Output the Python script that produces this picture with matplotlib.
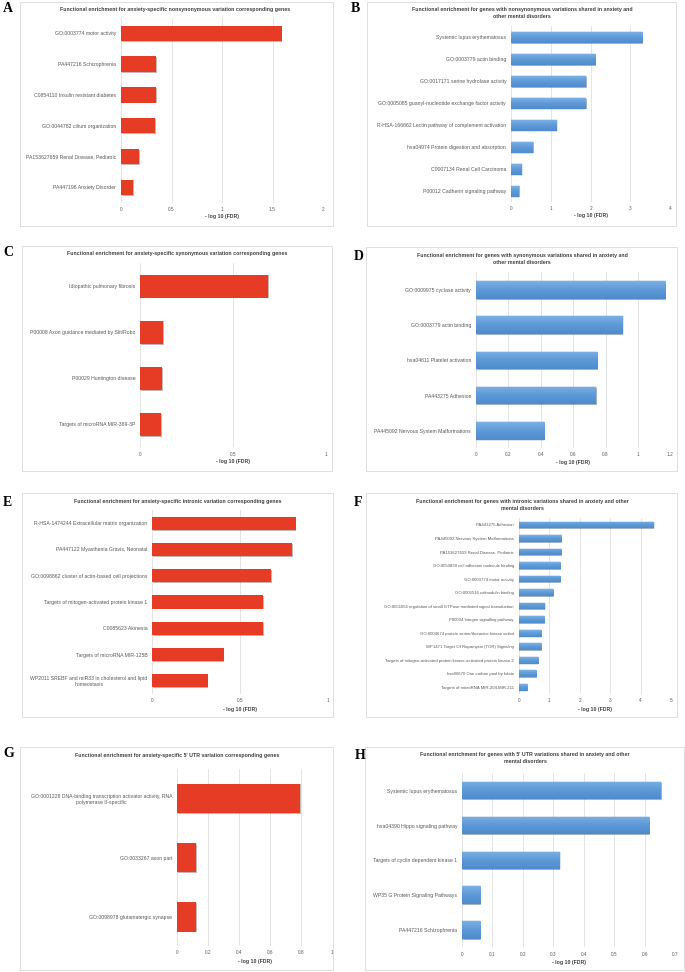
import matplotlib
matplotlib.use("Agg")
import matplotlib.pyplot as plt
from matplotlib.patches import Rectangle
from matplotlib.colors import LinearSegmentedColormap
import matplotlib.patheffects as pe
import numpy as np

W, H = 685, 972
RED = "#e63c26"
BLUE = "#609cd9"
TXT = "#595959"

plt.rcParams["font.family"] = ["Liberation Sans", "DejaVu Sans"]

# A: anxiety-specific nonsynonymous
a_terms = ["GO:0003774 motor activity", "PA447216 Schizophrenia",
           "C0854110 Insulin resistant diabetes", "GO:0044782 cilium organization",
           "PA153627659 Renal Disease, Pediatric", "PA447196 Anxiety Disorder"]
a_vals = [1.59, 0.35, 0.35, 0.335, 0.18, 0.12]

# B: shared nonsynonymous
b_terms = ["Systemic lupus erythematosus", "GO:0003779 actin binding",
           "GO:0017171 serine hydrolase activity",
           "GO:0005085 guanyl-nucleotide exchange factor activity",
           "R-HSA-166662 Lectin pathway of complement activation",
           "hsa04974 Protein digestion and absorption",
           "C0007134 Renal Cell Carcinoma", "P00012 Cadherin signaling pathway"]
b_vals = [3.29, 2.11, 1.88, 1.88, 1.15, 0.55, 0.27, 0.20]

# C: anxiety-specific synonymous
c_terms = ["Idiopathic pulmonary fibrosis", "P00008 Axon guidance mediated by Slit/Robo",
           "P00029 Huntington disease", "Targets of microRNA MIR-369-3P"]
c_vals = [0.69, 0.125, 0.12, 0.115]

# D: shared synonymous
d_terms = ["GO:0009975 cyclase activity", "GO:0003779 actin binding",
           "hsa04611 Platelet activation", "PA443275 Adhesion",
           "PA445092 Nervous System Malformations"]
d_vals = [1.17, 0.905, 0.75, 0.74, 0.42]

# E: anxiety-specific intronic
e_terms = ["R-HSA-1474244 Extracellular matrix organization",
           "PA447122 Myasthenia Gravis, Neonatal",
           "GO:0098862 cluster of actin-based cell projections",
           "Targets of mitogen-activated protein kinase 1", "C0085623 Akinesia",
           "Targets of microRNA MIR-125B",
           "WP2011 SREBF and miR33 in cholesterol and lipid\nhomeostasis"]
e_vals = [0.815, 0.795, 0.675, 0.63, 0.63, 0.405, 0.315]

# F: shared intronic
f_terms = ["PA443275 Adhesion", "PA445092 Nervous System Malformations",
           "PA153627659 Renal Disease, Pediatric",
           "GO:0050839 cell adhesion molecule binding", "GO:0003774 motor activity",
           "GO:0005516 calmodulin binding",
           "GO:0051056 regulation of small GTPase mediated signal transduction",
           "P00034 Integrin signalling pathway",
           "GO:0004674 protein serine/threonine kinase activit",
           "WP1471 Target Of Rapamycin (TOR) Signaling",
           "Targets of mitogen-activated protein kinase-activated protein kinase 2",
           "hsa00670 One carbon pool by folate", "Targets of microRNA MIR-204,MIR-211"]
f_vals = [4.43, 1.40, 1.40, 1.35, 1.35, 1.12, 0.85, 0.83, 0.74, 0.74, 0.63, 0.57, 0.27]

# G: anxiety-specific 5' UTR
g_terms = ["GO:0001228 DNA-binding transcription activator activity, RNA\npolymerase II-specific",
           "GO:0033267 axon part", "GO:0098978 glutamatergic synapse"]
g_vals = [0.795, 0.12, 0.12]

# H: shared 5' UTR
h_terms = ["Systemic lupus erythematosus", "hsa04390 Hippo signaling pathway",
           "Targets of cyclin dependent kinase 1", "WP35 G Protein Signaling Pathways",
           "PA447216 Schizophrenia"]
h_vals = [0.653, 0.615, 0.32, 0.06, 0.06]

blue_grad = LinearSegmentedColormap.from_list("bg", ["#7ab0e4", "#5d99d7", "#4f8ccc"])


def fx(x):
    return x / W


def fy(y):
    return 1 - y / H


def draw_panel(fig, letter, letter_pos, box, title, title_pos, terms, vals, color,
               plot, xticks, xlabel_y, fs=3.7, tfs=3.8):
    bx0, by0, bx1, by1 = box
    fig.patches.append(Rectangle((fx(bx0), fy(by1)), (bx1 - bx0) / W, (by1 - by0) / H,
                                 transform=fig.transFigure, fill=False,
                                 edgecolor="#d9d9d9", linewidth=0.6))
    fig.text(fx(letter_pos[0]), fy(letter_pos[1]), letter, family="Liberation Serif",
             fontsize=10, fontweight="bold", ha="left", va="center", color="black")
    fig.text(fx(title_pos[0]), fy(title_pos[1]), title, fontsize=tfs, fontweight="bold",
             ha="center", va="center", color="#404040", linespacing=1.5)

    # plot = (px of x=0, top px, px of x=xmax, bottom px)
    p0, ptop, p1, pbot = plot
    ax = fig.add_axes([fx(p0), fy(pbot), (p1 - p0) / W, (pbot - ptop) / H])
    n = len(terms)
    pos = list(range(n))
    blue = color == BLUE
    bars = ax.barh(pos, vals, height=0.5, color=color, zorder=3,
                   edgecolor="#4a85c4" if blue else "none", linewidth=0.3)
    for b in bars:
        b.set_path_effects([pe.SimplePatchShadow(offset=(0.5, -0.6), alpha=0.3), pe.Normal()])
        if blue:
            # vertical gradient like the Excel fill
            grad = np.linspace(0, 1, 32).reshape(-1, 1)
            y0 = b.get_y()
            im = ax.imshow(grad, cmap=blue_grad, aspect="auto", zorder=4,
                           extent=(0, b.get_width(), y0 + b.get_height(), y0),
                           origin="upper")
            im.set_clip_path(b)
    ax.set_xlim(0, xticks[-1])
    ax.set_ylim(n - 0.5, -0.5)
    ax.set_yticks(pos)
    ax.set_yticklabels(terms, fontsize=fs, color=TXT)
    for lab in ax.get_yticklabels():
        lab.set_multialignment("center")
    ax.set_xticks(xticks)
    ax.set_xticklabels([f"{t:g}" for t in xticks], fontsize=3.4, color=TXT)
    ax.tick_params(length=0, axis="y", pad=3.5)
    ax.tick_params(length=0, axis="x", pad=3.0)
    ax.grid(True, axis="x", color="#d9d9d9", linewidth=0.5, zorder=0)
    for s in ax.spines.values():
        s.set_visible(False)
    ax.set_facecolor("none")
    ax.set_xlabel("- log 10 (FDR)", fontsize=3.7, fontweight="bold", color="#404040")
    ax.xaxis.label.set_va("center")
    ax.xaxis.set_label_coords(0.5, -(xlabel_y - pbot) / (pbot - ptop))
    return ax


def main():
    fig = plt.figure(figsize=(W / 100, H / 100), dpi=100)

    draw_panel(fig, "A", (3, 9), (20, 2, 333, 226),
               "Functional enrichment for anxiety-specific nonsynonymous variation corresponding genes",
               (175, 9), a_terms, a_vals, RED, (121, 17.9, 323, 202.7),
               [0, 0.5, 1, 1.5, 2], 217)
    draw_panel(fig, "B", (351, 9), (367, 2, 676, 226),
               "Functional enrichment for genes with nonsynonymous variations shared in anxiety and\nother mental disorders",
               (522, 13), b_terms, b_vals, BLUE, (511, 26.3, 670.3, 202),
               [0, 1, 2, 3, 4], 216)
    draw_panel(fig, "C", (3, 253), (22, 246, 332, 471),
               "Functional enrichment for anxiety-specific synonymous variation corresponding genes",
               (177, 254), c_terms, c_vals, RED, (140, 263, 326, 447.4),
               [0, 0.5, 1], 462)
    draw_panel(fig, "D", (354, 256), (366, 247, 677, 471),
               "Functional enrichment for genes with synonymous variations shared in anxiety and\nother mental disorders",
               (522, 259), d_terms, d_vals, BLUE, (476, 272.4, 670.3, 448.3),
               [0, 0.2, 0.4, 0.6, 0.8, 1, 1.2], 462)
    draw_panel(fig, "E", (3, 502), (22, 493, 333, 717),
               "Functional enrichment for anxiety-specific intronic variation corresponding genes",
               (177.5, 501), e_terms, e_vals, RED, (152.3, 510, 328.3, 694),
               [0, 0.5, 1], 709)
    draw_panel(fig, "F", (354, 502), (366, 493, 677, 717),
               "Functional enrichment for genes with intronic variations shared in anxiety and other\nmental disorders",
               (522, 505), f_terms, f_vals, BLUE, (518.7, 518.2, 671, 694),
               [0, 1, 2, 3, 4, 5], 709, fs=3.1)
    draw_panel(fig, "G", (3, 753), (20, 747, 333, 970),
               "Functional enrichment for anxiety-specific 5' UTR variation corresponding genes",
               (176.7, 755), g_terms, g_vals, RED, (177.3, 768.7, 331.7, 946.3),
               [0, 0.2, 0.4, 0.6, 0.8, 1], 961)
    draw_panel(fig, "H", (355, 755), (365, 747, 684, 970),
               "Functional enrichment for genes with 5' UTR variations shared in anxiety and other\nmental disorders",
               (525, 758), h_terms, h_vals, BLUE, (462, 773.3, 675.3, 947.4),
               [0, 0.1, 0.2, 0.3, 0.4, 0.5, 0.6, 0.7], 962)

    fig.savefig("out.png", dpi=100, facecolor="white")
    plt.close(fig)


if __name__ == "__main__":
    main()
